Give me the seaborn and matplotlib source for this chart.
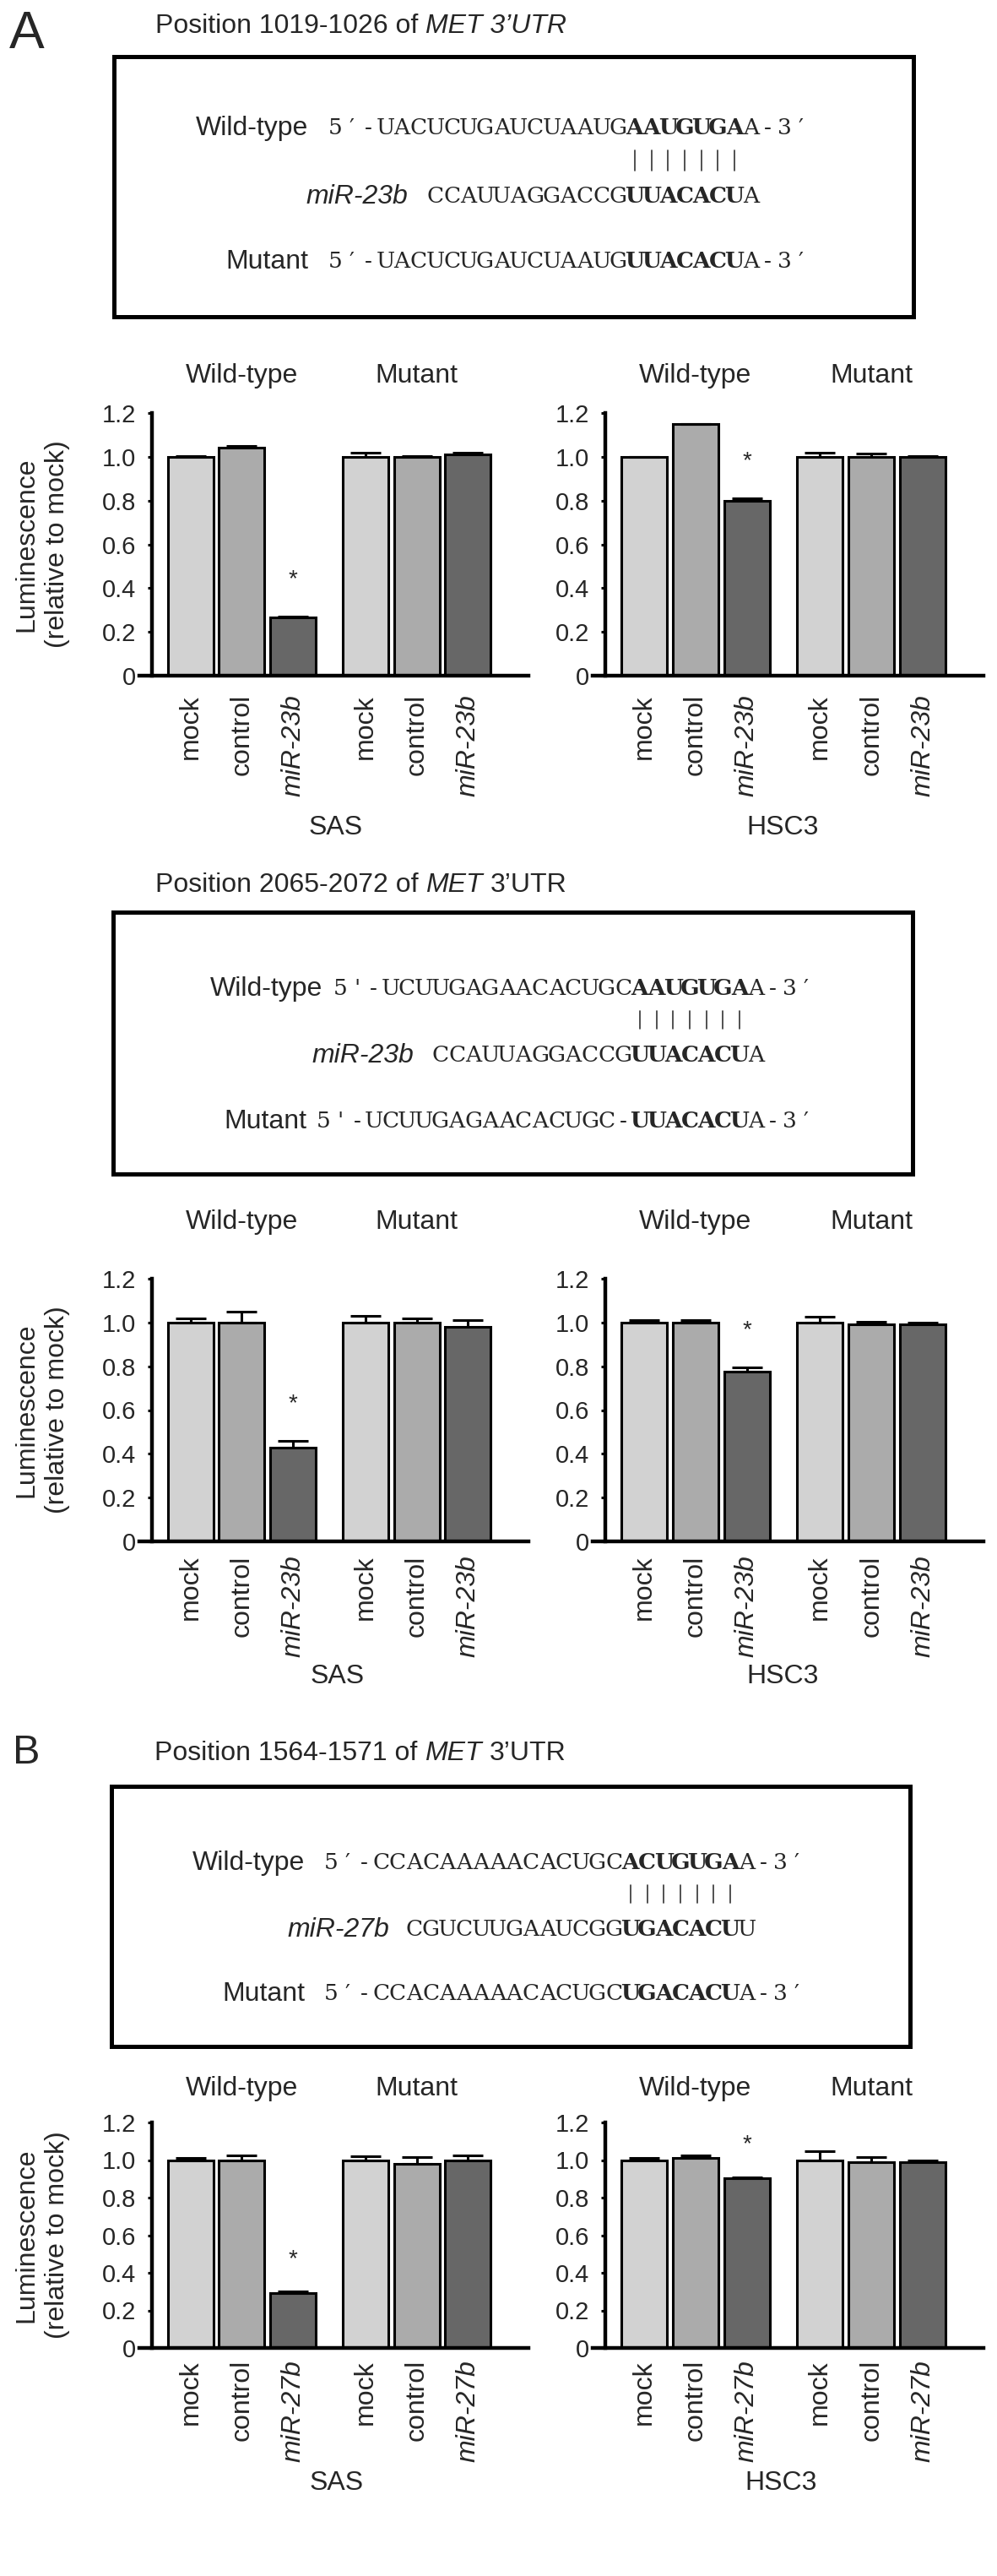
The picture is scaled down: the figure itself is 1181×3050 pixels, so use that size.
import matplotlib
matplotlib.use("Agg")
import matplotlib.pyplot as plt
import matplotlib.transforms as mtransforms
from matplotlib.patches import Rectangle
import pandas as pd
import seaborn as sns

# Bar data (luminescence relative to mock), order: WT mock/control/miR, Mutant mock/control/miR
conditions = ["mock", "control", "mir", "mock", "control", "mir"]
groups = ["Wild-type", "Mutant"]

sas_23b_a = [1.00, 1.04, 0.265, 1.00, 1.00, 1.01]
sas_23b_a_err = [0.005, 0.01, 0.004, 0.02, 0.005, 0.01]
hsc3_23b_a = [1.00, 1.15, 0.80, 1.00, 1.00, 1.00]
hsc3_23b_a_err = [0.0, 0.0, 0.01, 0.02, 0.015, 0.005]

sas_23b_b = [1.00, 1.00, 0.43, 1.00, 1.00, 0.98]
sas_23b_b_err = [0.02, 0.05, 0.03, 0.03, 0.02, 0.03]
hsc3_23b_b = [1.00, 1.00, 0.775, 1.00, 0.99, 0.99]
hsc3_23b_b_err = [0.01, 0.01, 0.02, 0.025, 0.015, 0.01]

sas_27b = [1.00, 1.00, 0.29, 1.00, 0.98, 1.00]
sas_27b_err = [0.012, 0.025, 0.012, 0.022, 0.035, 0.025]
hsc3_27b = [1.00, 1.01, 0.905, 1.00, 0.99, 0.99]
hsc3_27b_err = [0.01, 0.015, 0.005, 0.045, 0.025, 0.008]

y_ticks = [0, 0.2, 0.4, 0.6, 0.8, 1.0, 1.2]
y_tick_labels = ["0", "0.2", "0.4", "0.6", "0.8", "1.0", "1.2"]

# Sequence rows: (label, prefix, bold seed part, suffix)
seq_box1 = [
    ("Wild-type", "5′-UACUCUGAUCUAAUG", "AAUGUGA", "A-3′"),
    ("miR-23b", "CCAUUAGGACCG", "UUACACU", "A"),
    ("Mutant", "5′-UACUCUGAUCUAAUG", "UUACACU", "A-3′"),
]
seq_box2 = [
    ("Wild-type", "5'-UCUUGAGAACACUGC", "AAUGUGA", "A-3′"),
    ("miR-23b", "CCAUUAGGACCG", "UUACACU", "A"),
    ("Mutant", "5'-UCUUGAGAACACUGC-", "UUACACU", "A-3′"),
]
seq_box3 = [
    ("Wild-type", "5′-CCACAAAAACACUGC", "ACUGUGA", "A-3′"),
    ("miR-27b", "CGUCUUGAAUCGG", "UGACACU", "U"),
    ("Mutant", "5′-CCACAAAAACACUGC", "UGACACU", "A-3′"),
]

W, H = 1181, 3050
positions = [0.0, 1.0, 2.0, 3.42, 4.42, 5.42]
palette = {"mock": "#d2d2d2", "control": "#ababab", "mir": "#676767"}

sns.set_theme(style="white")
plt.rcParams["font.family"] = ["Liberation Sans", "DejaVu Sans"]

fig = plt.figure(figsize=(W / 100, H / 100), dpi=100)
fig.patch.set_facecolor("white")

# full-figure overlay in pixel coordinates (y down) for boxes and free text
over = fig.add_axes([0, 0, 1, 1])
over.set_xlim(0, W)
over.set_ylim(H, 0)
over.set_axis_off()
renderer = fig.canvas.get_renderer()


def px_axes(left, top, right, bottom):
    return fig.add_axes([left / W, 1 - bottom / H, (right - left) / W, (bottom - top) / H])


def draw_runs(x, y, runs, size=23):
    """Draw consecutive text runs (text, style) on one baseline."""
    space = 0.278 * size * 100 / 72
    for txt, style in runs:
        t = over.text(x, y, txt, fontsize=size, style=style, ha="left", va="baseline")
        x += t.get_window_extent(renderer).width + space


def seq_box(box, rows, row_y, bar_y, bold_x, gaps, cw=19.7):
    """Sequence alignment box with the seed region in bold."""
    l, t, r, b = box
    over.add_patch(Rectangle((l, t), r - l, b - t, fill=False, lw=3.6, ec="black"))
    for (label, pre, seed, post), y, gap in zip(rows, row_y, gaps):
        start = bold_x - len(pre) * cw
        style = "italic" if label.startswith("miR") else "normal"
        over.text(start - gap, y + 11.4, label, fontsize=23, style=style,
                  ha="right", va="baseline")
        chars = [(c, "normal") for c in pre] + [(c, "bold") for c in seed] + \
                [(c, "normal") for c in post]
        for i, (c, wt) in enumerate(chars):
            over.text(start + (i + 0.5) * cw, y + 10, c, family="DejaVu Serif",
                      fontsize=19, weight=wt, ha="center", va="baseline")
    for k in range(7):
        xk = bold_x + (k + 0.5) * cw
        over.plot([xk, xk], bar_y, color="#333333", lw=1.2)


def bar_panel(xr, yr, values, errs, mir, cell, group_y, cell_xy, tick_pad, ylabel):
    ax = px_axes(xr[0], yr[0], xr[1], yr[1])
    ax.patch.set_alpha(0)
    df = pd.DataFrame({"pos": positions, "value": values, "cond": conditions})
    sns.barplot(data=df, x="pos", y="value", hue="cond", hue_order=["mock", "control", "mir"],
                palette=palette, native_scale=True, width=0.89, dodge=False,
                edgecolor="black", linewidth=2.2, errorbar=None, legend=False, ax=ax)
    ax.errorbar(positions, values, yerr=[[0] * 6, errs], fmt="none", ecolor="black",
                elinewidth=2.2, capsize=13, capthick=2.2, zorder=5)
    ax.set_xlim(-1.0, 6.6)
    ax.set_ylim(0, 1.2)
    ax.set_xlabel("")
    ax.set_ylabel("")
    sns.despine(ax=ax)
    ax.spines["left"].set_position(("data", -0.75))
    ax.spines["left"].set_bounds(0, 1.2)
    for s in ("left", "bottom"):
        ax.spines[s].set_linewidth(3.2)
        ax.spines[s].set_color("black")
    ax.set_yticks(y_ticks, y_tick_labels)
    ax.tick_params(axis="y", direction="out", length=3.5, width=2.2, labelsize=21,
                   pad=10, left=True, color="black")
    labels = ["mock", "control", mir, "mock", "control", mir]
    ax.set_xticks(positions, labels, rotation=90, va="top", ha="center")
    ax.tick_params(axis="x", length=0, labelsize=23, pad=tick_pad)
    for lab in ax.get_xticklabels():
        if lab.get_text().startswith("miR"):
            lab.set_style("italic")
    # significance star
    ax.text(positions[2], values[2] + errs[2] + 0.17, "*", ha="center", va="center",
            fontsize=20)
    blend = mtransforms.blended_transform_factory(ax.transData, over.transData)
    ax.text(1.0, group_y, groups[0], transform=blend, ha="center", va="center", fontsize=23)
    ax.text(4.42, group_y, groups[1], transform=blend, ha="center", va="center", fontsize=23)
    over.text(cell_xy[0], cell_xy[1], cell, ha="center", va="center", fontsize=23)
    if ylabel:
        over.text(50, (yr[0] + yr[1]) / 2, "Luminescence\n(relative to mock)", rotation=90,
                  ha="center", va="center", multialignment="center", linespacing=1.3,
                  fontsize=23)
    return ax


SAS_X = (165, 626)
HSC3_X = (702, 1165)

# Panel A, site 1019-1026
over.text(11, 57, "A", fontsize=45, ha="left", va="baseline")
draw_runs(184, 39, [("Position 1019-1026 of", "normal"), ("MET 3’UTR", "italic")])
seq_box((135, 67, 1082, 375), seq_box1, [149, 230, 307], (178, 202), 742, [22, 22, 22])
bar_panel(SAS_X, (489, 800), sas_23b_a, sas_23b_a_err, "miR-23b", "SAS", 445, (398, 980), 16, True)
bar_panel(HSC3_X, (489, 800), hsc3_23b_a, hsc3_23b_a_err, "miR-23b", "HSC3", 445, (927, 980), 16, False)

# Panel A, site 2065-2072
draw_runs(184, 1056, [("Position 2065-2072 of", "normal"), ("MET", "italic"), ("3’UTR", "normal")])
seq_box((134, 1080, 1081, 1390), seq_box2, [1168, 1247, 1325], (1197, 1218), 748, [11, 21, 10])
bar_panel(SAS_X, (1514, 1825), sas_23b_b, sas_23b_b_err, "miR-23b", "SAS", 1447, (400, 1985), 12, True)
bar_panel(HSC3_X, (1514, 1825), hsc3_23b_b, hsc3_23b_b_err, "miR-23b", "HSC3", 1447, (927, 1985), 12, False)

# Panel B, site 1564-1571 (miR-27b)
over.text(15, 2088, "B", fontsize=35, ha="left", va="baseline")
draw_runs(183, 2084, [("Position 1564-1571 of", "normal"), ("MET", "italic"), ("3’UTR", "normal")])
seq_box((132, 2115, 1078, 2423), seq_box3, [2203, 2282, 2358], (2232, 2253), 737, [21, 20, 21])
bar_panel(SAS_X, (2513, 2780), sas_27b, sas_27b_err, "miR-27b", "SAS", 2473, (399, 2940), 10, True)
bar_panel(HSC3_X, (2513, 2780), hsc3_27b, hsc3_27b_err, "miR-27b", "HSC3", 2473, (925, 2940), 10, False)

fig.savefig("out.png", dpi=100, facecolor="white")
